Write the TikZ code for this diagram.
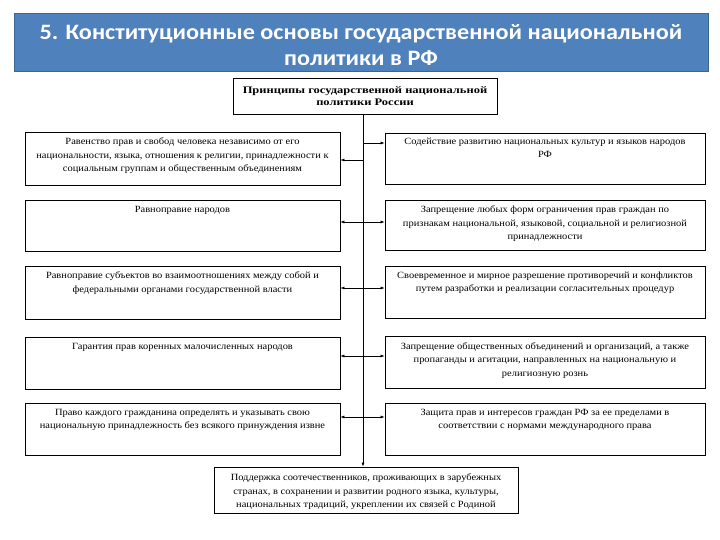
\documentclass[tikz,border=0pt]{standalone}
\usepackage{fontspec}
\setmainfont{Liberation Serif}
\newfontfamily\boxfont[FakeStretch=1.1]{Liberation Serif}
\newfontfamily\topfont[FakeStretch=1.25]{Liberation Serif}
\newfontfamily\titlefont[FakeStretch=1.1]{Carlito}
\usetikzlibrary{arrows.meta}
\definecolor{titleblue}{HTML}{4F81BD}
\definecolor{titleedge}{HTML}{3A6595}
\begin{document}
\begin{tikzpicture}[x=1pt,y=-1pt,
  box/.style={draw=black, line width=0.7pt, inner sep=0pt, fill=white},
  lbox/.style={box, minimum width=315pt, minimum height=53pt},
  rbox/.style={box, minimum width=320pt, minimum height=52pt},
  txt/.style={anchor=north, align=center, inner sep=0pt, font=\boxfont\fontsize{9.5}{13.5}\selectfont},
  arr/.style={-{Latex[length=4pt,width=3pt]}, line width=0.6pt},
  darr/.style={{Latex[length=4pt,width=3pt]}-{Latex[length=4pt,width=3pt]}, line width=0.6pt},
  ]
\useasboundingbox (0,0) rectangle (720,540);

% title
\node[fill=titleblue, draw=titleedge, line width=1pt, minimum width=694pt, minimum height=58pt, inner sep=0pt] (title) at (361,43) {};
\node[text=white, align=center, inner sep=0pt, font=\titlefont\bfseries\fontsize{22}{26}\selectfont] (titletext) at (361,45) {5. Конституционные основы государственной национальной\\политики в РФ};

% top box
\node[box, minimum width=264pt, minimum height=36pt] (top) at (365,96) {};
\node[align=center, inner sep=0pt, font=\topfont\bfseries\fontsize{10}{12}\selectfont] (toptext) at (top.center) {Принципы государственной национальной\\политики России};

% left boxes
\node[lbox] (l1) at (182.5,158.5) {};
\node[lbox, minimum height=51pt] (l2) at (182.5,225.5) {};
\node[lbox] (l3) at (182.5,292.5) {};
\node[lbox, minimum height=52pt] (l4) at (182.5,363) {};
\node[lbox, minimum height=52pt] (l5) at (182.5,429) {};
% right boxes
\node[rbox, minimum height=51pt] (r1) at (545,158.5) {};
\node[rbox, minimum height=50pt] (r2) at (545,225) {};
\node[rbox] (r3) at (545,292) {};
\node[rbox] (r4) at (545,362.5) {};
\node[rbox] (r5) at (545,429) {};
% bottom box
\node[box, minimum width=304pt, minimum height=46pt] (bot) at (366,490) {};

% texts
\node[txt] (l1t) at ([yshift=-6pt]l1.north) {Равенство прав и свобод человека независимо от его\\национальности, языка, отношения к религии, принадлежности к\\социальным группам и общественным объединениям};
\node[txt] (l2t) at ([yshift=-6pt]l2.north) {Равноправие народов};
\node[txt] (l3t) at ([yshift=-6pt]l3.north) {Равноправие субъектов во взаимоотношениях между собой и\\федеральными органами государственной власти};
\node[txt] (l4t) at ([yshift=-6pt]l4.north) {Гарантия прав коренных малочисленных народов};
\node[txt] (l5t) at ([yshift=-6pt]l5.north) {Право каждого гражданина определять и указывать свою\\национальную принадлежность без всякого принуждения извне};
\node[txt] (r1t) at ([yshift=-5pt]r1.north) {Содействие развитию национальных культур и языков народов\\РФ};
\node[txt] (r2t) at ([yshift=-6pt]r2.north) {Запрещение любых форм ограничения прав граждан по\\признакам национальной, языковой, социальной и религиозной\\принадлежности};
\node[txt] (r3t) at ([yshift=-6pt]r3.north) {Своевременное и мирное разрешение противоречий и конфликтов\\путем разработки и реализации согласительных процедур};
\node[txt] (r4t) at ([yshift=-6pt]r4.north) {Запрещение общественных объединений и организаций, а также\\пропаганды и агитации, направленных на национальную и\\религиозную рознь};
\node[txt] (r5t) at ([yshift=-6pt]r5.north) {Защита прав и интересов граждан РФ за ее пределами в\\соответствии с нормами международного права};
\node[txt] (bott) at ([yshift=-7pt]bot.north) {Поддержка соотечественников, проживающих в зарубежных\\странах, в сохранении и развитии родного языка, культуры,\\национальных традиций, укреплении их связей с Родиной};

% central line
\coordinate (ctop) at (363,114);
\draw[arr] (ctop) -- (ctop |- bot.north);

% branches
\coordinate (cl1) at (363,160);
\coordinate (cr1) at (363,143);
\coordinate (c2) at (363,222);
\coordinate (c3) at (363,288);
\coordinate (c4) at (363,356);
\coordinate (c5) at (363,417);
\draw[arr] (cl1) -- (cl1 -| l1.east);
\draw[arr] (cr1) -- (cr1 -| r1.west);
\draw[arr] (c2) -- (c2 -| l2.east);
\draw[arr] (c2) -- (c2 -| r2.west);
\draw[arr] (c3) -- (c3 -| l3.east);
\draw[arr] (c3) -- (c3 -| r3.west);
\draw[arr] (c4) -- (c4 -| l4.east);
\draw[arr] (c4) -- (c4 -| r4.west);
\draw[darr] (c5 -| l5.east) -- (c5 -| r5.west);
\end{tikzpicture}
\end{document}
